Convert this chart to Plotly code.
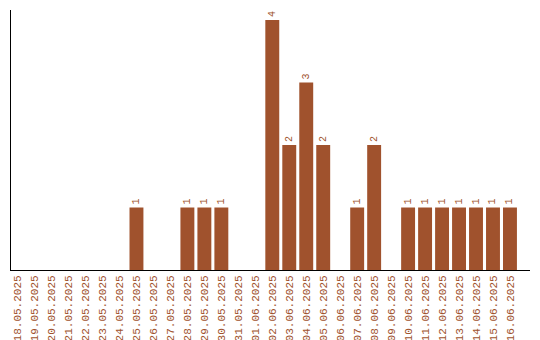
import plotly.graph_objects as go

dates = ["18.05.2025","19.05.2025","20.05.2025","21.05.2025","22.05.2025","23.05.2025",
         "24.05.2025","25.05.2025","26.05.2025","27.05.2025","28.05.2025","29.05.2025",
         "30.05.2025","31.05.2025","01.06.2025","02.06.2025","03.06.2025","04.06.2025",
         "05.06.2025","06.06.2025","07.06.2025","08.06.2025","09.06.2025","10.06.2025",
         "11.06.2025","12.06.2025","13.06.2025","14.06.2025","15.06.2025","16.06.2025"]
counts = [0,0,0,0,0,0,0,1,0,0,1,1,1,0,0,4,2,3,2,0,1,2,0,1,1,1,1,1,1,1]

color = "#A0522D"
FONT = "Liberation Mono"
labels = [str(v) if v > 0 else "" for v in counts]

fig = go.Figure(go.Bar(
    x=dates, y=counts, marker_color=color, marker_line_width=0,
    text=labels, textposition="outside", textangle=-90,
    textfont=dict(family=FONT, size=10, color=color),
    cliponaxis=False,
))
fig.update_layout(
    width=540, height=340, margin=dict(l=11, r=10, t=10, b=70, autoexpand=False),
    plot_bgcolor="white", paper_bgcolor="white", bargap=0.18, showlegend=False,
    font=dict(family=FONT, size=11, color=color),
)
fig.update_xaxes(type="category", tickangle=-90, showline=True, linecolor="black", linewidth=1,
                 showgrid=False, ticks="", automargin=False, range=[-0.39, 30.18],
                 tickfont=dict(family=FONT, size=11, color=color))
fig.update_yaxes(range=[0, 4.16], showline=True, linecolor="black", linewidth=1, showgrid=False,
                 showticklabels=False, ticks="", zeroline=False, automargin=False)
fig.write_html("out.html")
